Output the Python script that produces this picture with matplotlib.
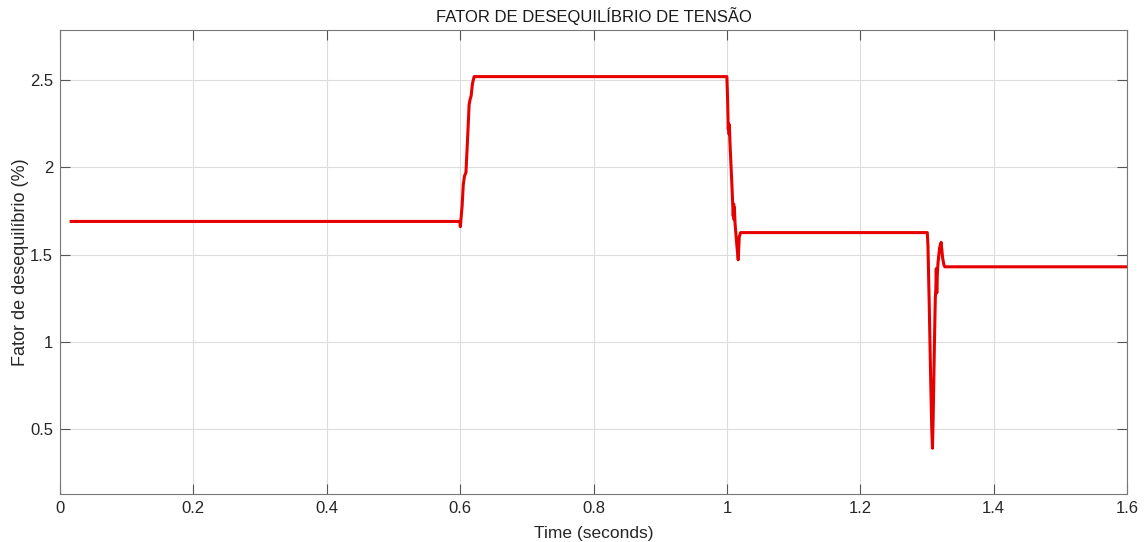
import matplotlib.pyplot as plt

plt.rcParams['font.family'] = ['Liberation Sans', 'DejaVu Sans']
plt.rcParams['font.size'] = 12

# unbalance factor vs time (simulation output)
time = [0.0167, 0.5995, 0.6003, 0.6010, 0.6030, 0.6047, 0.6065, 0.6087,
        0.6110, 0.6135, 0.6150, 0.6165, 0.6185, 0.6210,
        1.0000, 1.0010, 1.0020, 1.0028, 1.0033, 1.0038, 1.0045, 1.0075,
        1.0095, 1.0102, 1.0108, 1.0113, 1.0122, 1.0150, 1.0170, 1.0185, 1.0205,
        1.3005, 1.3015, 1.3035, 1.3055, 1.3072, 1.3083, 1.3095, 1.3110,
        1.3125, 1.3133, 1.3140, 1.3147, 1.3155, 1.3165, 1.3190, 1.3213,
        1.3235, 1.3255, 1.3268, 1.6000]
fator = [1.69, 1.69, 1.66, 1.69, 1.78, 1.90, 1.95, 1.97,
         2.15, 2.36, 2.39, 2.41, 2.48, 2.52,
         2.52, 2.40, 2.22, 2.25, 2.19, 2.24, 2.15, 1.90,
         1.72, 1.79, 1.70, 1.77, 1.68, 1.55, 1.47, 1.60, 1.626,
         1.626, 1.55, 1.20, 0.80, 0.50, 0.39, 0.60, 0.95,
         1.25, 1.30, 1.42, 1.28, 1.38, 1.45, 1.54, 1.57,
         1.48, 1.44, 1.43, 1.43]

xticks = [0, 0.2, 0.4, 0.6, 0.8, 1.0, 1.2, 1.4, 1.6]
xlabels = ['0', '0.2', '0.4', '0.6', '0.8', '1', '1.2', '1.4', '1.6']
yticks = [0.5, 1.0, 1.5, 2.0, 2.5]
ylabels = ['0.5', '1', '1.5', '2', '2.5']

fig = plt.figure(figsize=(11.45, 5.42), dpi=100)
ax = fig.add_axes([0.0524, 0.0886, 0.9319, 0.856])

ax.plot(time, fator, color='#e60000', lw=2.2)

ax.set_xlim(0, 1.6)
ax.set_ylim(0.128, 2.787)
ax.set_xticks(xticks)
ax.set_xticklabels(xlabels)
ax.set_yticks(yticks)
ax.set_yticklabels(ylabels)
ax.grid(True, color='#dcdcdc', lw=0.8)
ax.tick_params(direction='in', length=7, width=0.8, color='#555555',
               top=True, right=True, labelcolor='#262626', pad=5)
for s in ax.spines.values():
    s.set_color('#777777')
    s.set_linewidth(0.8)

ax.set_title('FATOR DE DESEQUILÍBRIO DE TENSÃO', fontsize=12, color='#1a1a1a', pad=6)
ax.set_xlabel('Time (seconds)', fontsize=12.5, color='#262626', labelpad=7)
ax.set_ylabel('Fator de desequilíbrio (%)', fontsize=13, color='#262626', labelpad=1)

fig.savefig('out.png', dpi=100)
